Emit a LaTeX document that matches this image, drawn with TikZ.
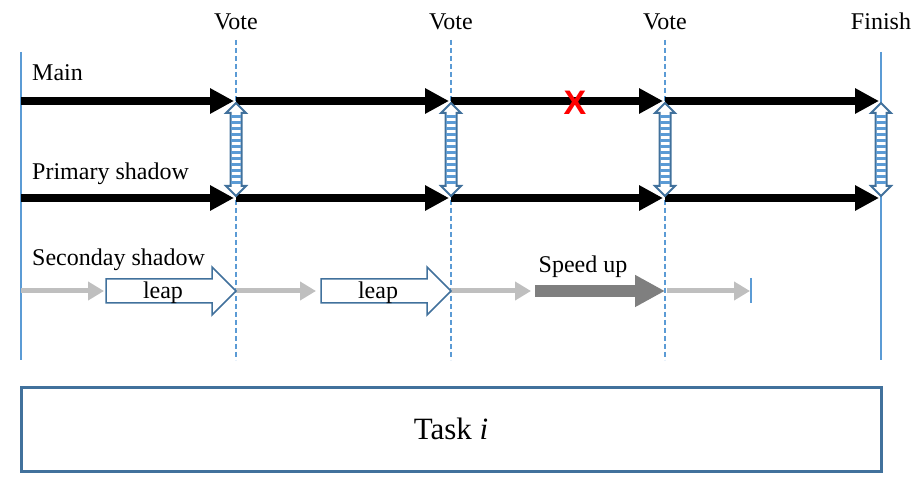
\documentclass[tikz,border=0pt]{standalone}
\usepackage{fontspec}
\setmainfont{Liberation Serif}
\newfontfamily\xfont{Liberation Sans}
\usetikzlibrary{arrows.meta}
\definecolor{lineblue}{HTML}{5B9BD5}
\definecolor{edgeblue}{HTML}{41719C}
\definecolor{lightgr}{HTML}{BFBFBF}
\definecolor{darkgr}{HTML}{7F7F7F}
\tikzset{
  lbl/.style={font=\fontsize{24}{28}\selectfont, inner sep=0pt},
  runarrow/.style={line width=7.5pt, -{Triangle[length=24pt,width=24pt]}, shorten >=2pt},
  slowarrow/.style={lightgr, line width=5pt, -{Triangle[length=16pt,width=18pt]}},
  fastarrow/.style={darkgr, line width=12pt, -{Triangle[length=30pt,width=30pt]}},
  voteline/.style={lineblue, line width=1.2pt, dash pattern=on 5pt off 3pt},
  edgeline/.style={lineblue, line width=1.5pt}
}
\begin{document}
\begin{tikzpicture}[x=1pt,y=-1pt]
  \useasboundingbox (0,0) rectangle (924,494);
  % columns of the time line
  \foreach \x [count=\i from 0] in {21,236,451,665,881} {
    \coordinate (m\i) at (\x,101);
    \coordinate (p\i) at (\x,198);
    \coordinate (t\i) at (\x,40);
    \coordinate (b\i) at (\x,360);
  }
  \coordinate (e0) at (21,52);
  \coordinate (e4) at (881,52);
  \draw [edgeline] (e0) -- (b0);
  \draw [edgeline] (e4) -- (b4);
  \foreach \i in {1,2,3} \draw [voteline] (t\i) -- (b\i);
  \node [lbl, anchor=base] (v1) at (236,30) {Vote};
  \node [lbl, anchor=base] (v2) at (451,30) {Vote};
  \node [lbl, anchor=base] (v3) at (665,30) {Vote};
  \node [lbl, anchor=base] (fin) at (881,30) {Finish};
  % main and primary shadow
  \node [lbl, anchor=base west] (main) at (32,81) {Main};
  \node [lbl, anchor=base west] (prim) at (32,180) {Primary shadow};
  \foreach \i [evaluate=\i as \j using int(\i+1)] in {0,...,3} {
    \draw [runarrow] (m\i) -- (m\j);
    \draw [runarrow] (p\i) -- (p\j);
  }
  \node [text=red, font=\xfont\bfseries\fontsize{34}{34}\selectfont, inner sep=0pt] (fail) at (575,103) {X};
  % votes between main and primary shadow
  \foreach \i in {1,...,4} {
    \begin{scope}[shift={(m\i)}]
      \filldraw [fill=white, draw=edgeblue, line width=2pt]
        (0,2) -- (10,12) -- (5.5,12) -- (5.5,85) -- (10,85) -- (0,95)
        -- (-10,85) -- (-5.5,85) -- (-5.5,12) -- (-10,12) -- cycle;
      \foreach \k in {16,22,...,82} \draw [lineblue, line width=3pt] (-5,\k) -- (5,\k);
    \end{scope}
  }
  % secondary shadow
  \node [lbl, anchor=base west] (sec) at (32,266) {Seconday shadow};
  \coordinate (s0) at (21,291);
  \coordinate (s1) at (104,291);
  \coordinate (s2) at (236,291);
  \coordinate (s3) at (316,291);
  \coordinate (s4) at (451,291);
  \coordinate (s5) at (531,291);
  \coordinate (s6) at (535,291);
  \coordinate (s7) at (665,291);
  \coordinate (s8) at (667,291);
  \coordinate (s9) at (750,291);
  \draw [slowarrow] (s0) -- (s1);
  \draw [slowarrow] (s2) -- (s3);
  \draw [slowarrow] (s4) -- (s5);
  \draw [slowarrow] (s8) -- (s9);
  \draw [fastarrow] (s6) -- (s7);
  \node [lbl, anchor=base] (speed) at (583,273) {Speed up};
  \foreach \a/\b/\n in {106/236/la, 321/451/lb} {
    \draw [edgeblue, line width=1.5pt, fill=white]
      (\a,279) -- (\b-24,279) -- (\b-24,267) -- (\b,291) -- (\b-24,315)
      -- (\b-24,303) -- (\a,303) -- cycle;
    \node [lbl, anchor=base] (\n) at ({(\a+\b-24)/2+4},299) {leap};
  }
  \coordinate (k1) at (751,278);
  \coordinate (k2) at (751,303);
  \draw [edgeline] (k1) -- (k2);
  % task box
  \node [draw=edgeblue, line width=3pt, minimum width=860pt, minimum height=84pt,
         font=\fontsize{31}{36}\selectfont] (task) at (451,429) {Task \textit{i}};
\end{tikzpicture}
\end{document}
